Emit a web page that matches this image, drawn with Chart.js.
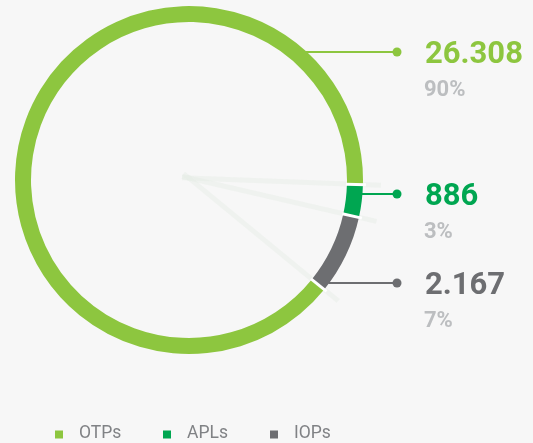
<!DOCTYPE html>
<html>
<head>
<meta charset="utf-8">
<script src="https://cdn.jsdelivr.net/npm/chart.js@4.4.1/dist/chart.umd.min.js"></script>
<style>
  html, body { margin: 0; padding: 0; background: #f7f7f7; }
  #wrap { width: 533px; height: 443px; position: relative; }
  canvas { display: block; }
</style>
</head>
<body>
<div id="wrap"><canvas id="c" width="533" height="443"></canvas></div>
<script>
// Portfolio split
const categories = ['OTPs', 'APLs', 'IOPs'];
const values = [26308, 886, 2167];
const colors = ['#8dc63f', '#00a651', '#6d6e71'];

// Callout layout (vertical row of each value label, px)
const calloutRowY = [52, 194, 283];
const calloutDotX = 397;
const calloutTextX = 425;
// Legend layout (left edge of each legend marker, px)
const legendMarkerX = [55, 163, 270];
const legendBaseline = 438;

const FONT = 'Roboto, "Liberation Sans", Arial, sans-serif';
const total = values.reduce((a, b) => a + b, 0);

function formatThousands(n) {
  return String(n).replace(/\B(?=(\d{3})+(?!\d))/g, '.');
}

const ringDecor = {
  id: 'ringDecor',
  beforeDatasetsDraw(chart) {
    // faint rays along the slice boundaries
    const ctx = chart.ctx;
    const arcs = chart.getDatasetMeta(0).data;
    const cx = arcs[0].x, cy = arcs[0].y;
    ctx.save();
    ctx.strokeStyle = 'rgba(228, 234, 228, 0.4)';
    ctx.lineWidth = 5;
    arcs.forEach(a => {
      const ang = a.startAngle;
      const r0 = -7, r1 = arcs[0].outerRadius + 18;
      ctx.beginPath();
      ctx.moveTo(cx + r0 * Math.cos(ang), cy + r0 * Math.sin(ang) - 2);
      ctx.lineTo(cx + r1 * Math.cos(ang), cy + r1 * Math.sin(ang));
      ctx.stroke();
    });
    ctx.restore();
  },
  afterDatasetsDraw(chart) {
    // white separators between slices
    const ctx = chart.ctx;
    const arcs = chart.getDatasetMeta(0).data;
    ctx.save();
    ctx.strokeStyle = '#ffffff';
    ctx.lineWidth = 3;
    arcs.forEach(a => {
      const ang = a.startAngle;
      const r0 = a.innerRadius - 1, r1 = a.outerRadius + 3;
      ctx.beginPath();
      ctx.moveTo(a.x + r0 * Math.cos(ang), a.y + r0 * Math.sin(ang));
      ctx.lineTo(a.x + r1 * Math.cos(ang), a.y + r1 * Math.sin(ang));
      ctx.stroke();
    });
    ctx.restore();
  },
  afterDraw(chart) {
    const ctx = chart.ctx;
    const arcs = chart.getDatasetMeta(0).data;
    const cx = arcs[0].x, cy = arcs[0].y, R = arcs[0].outerRadius;
    ctx.save();
    // callouts: leader line, dot, value and share
    values.forEach((v, i) => {
      const y = calloutRowY[i];
      const dy = y - cy;
      const xEdge = cx + Math.sqrt(Math.max(R * R - dy * dy, 0));
      ctx.strokeStyle = colors[i];
      ctx.lineWidth = 2;
      ctx.beginPath();
      ctx.moveTo(xEdge - 1, y);
      ctx.lineTo(calloutDotX, y);
      ctx.stroke();
      ctx.fillStyle = colors[i];
      ctx.beginPath();
      ctx.arc(calloutDotX, y, 4.5, 0, Math.PI * 2);
      ctx.fill();

      ctx.textAlign = 'left';
      ctx.textBaseline = 'alphabetic';
      ctx.font = 'bold 31px ' + FONT;
      ctx.fillStyle = colors[i];
      ctx.fillText(formatThousands(v), calloutTextX, y + 11);
      ctx.font = 'bold 22px ' + FONT;
      ctx.fillStyle = '#bcbec0';
      ctx.fillText(Math.round(v / total * 100) + '%', calloutTextX - 1, y + 44);
    });
    // legend
    categories.forEach((c, i) => {
      const x = legendMarkerX[i];
      ctx.fillStyle = colors[i];
      ctx.fillRect(x, legendBaseline - 7.5, 8, 8);
      ctx.font = '17.5px ' + FONT;
      ctx.fillStyle = '#808285';
      ctx.fillText(c, x + 24, legendBaseline);
    });
    ctx.restore();
  }
};

new Chart(document.getElementById('c'), {
  type: 'doughnut',
  data: {
    labels: categories,
    datasets: [{
      data: values,
      backgroundColor: colors,
      borderWidth: 0,
      hoverOffset: 0,
      offset: 0
    }]
  },
  options: {
    responsive: false,
    animation: false,
    cutout: '90.8%',
    rotation: 129,
    layout: { padding: { left: 15, top: 6, right: 170, bottom: 89 } },
    plugins: {
      legend: { display: false },
      tooltip: { enabled: false }
    },
    events: []
  },
  plugins: [ringDecor]
});
</script>
</body>
</html>
